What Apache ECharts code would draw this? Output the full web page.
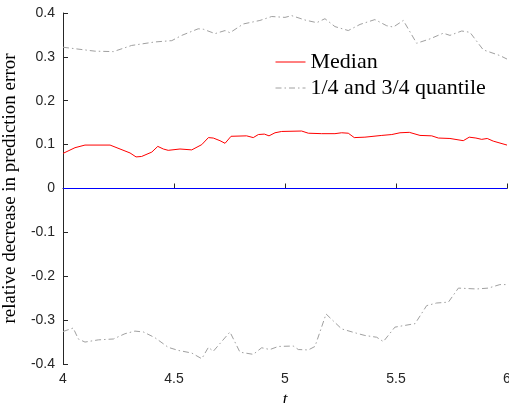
<!DOCTYPE html>
<html>
<head>
<meta charset="utf-8">
<script src="https://cdn.jsdelivr.net/npm/echarts@6/dist/echarts.min.js"></script>
<style>html,body{margin:0;padding:0;background:#fff;}#c{width:509px;height:403px;}</style>
</head>
<body>
<div id="c"></div>
<script>
// ---- data ----
const medianT = [4.000,4.054,4.099,4.212,4.302,4.329,4.354,4.400,4.427,4.452,4.474,4.527,4.580,4.625,4.655,4.677,4.707,4.730,4.757,4.827,4.857,4.880,4.907,4.928,4.955,4.985,5.075,5.105,5.165,5.225,5.255,5.285,5.312,5.360,5.436,5.481,5.518,5.560,5.608,5.661,5.691,5.743,5.803,5.830,5.860,5.886,5.911,5.938,6.000];
const medianV = [0.080,0.093,0.099,0.099,0.081,0.072,0.073,0.083,0.096,0.090,0.087,0.090,0.088,0.100,0.116,0.115,0.109,0.103,0.119,0.120,0.116,0.123,0.124,0.120,0.127,0.130,0.131,0.126,0.125,0.125,0.127,0.126,0.116,0.117,0.121,0.123,0.127,0.128,0.121,0.120,0.115,0.114,0.109,0.117,0.115,0.112,0.114,0.108,0.099];

const upperT = [4.000,4.144,4.227,4.309,4.414,4.490,4.535,4.609,4.632,4.685,4.730,4.752,4.812,4.887,4.940,5.000,5.030,5.090,5.143,5.180,5.225,5.285,5.338,5.405,5.458,5.488,5.533,5.593,5.653,5.713,5.743,5.796,5.833,5.893,5.968,6.000];
const upperV = [0.322,0.313,0.312,0.326,0.334,0.337,0.349,0.364,0.363,0.353,0.360,0.355,0.375,0.383,0.392,0.390,0.394,0.384,0.378,0.387,0.369,0.360,0.374,0.385,0.371,0.368,0.383,0.331,0.341,0.354,0.349,0.359,0.356,0.316,0.303,0.295];

const lowerT = [4.000,4.046,4.069,4.099,4.159,4.227,4.279,4.324,4.362,4.414,4.474,4.519,4.580,4.625,4.655,4.677,4.752,4.797,4.857,4.895,4.932,4.970,5.037,5.060,5.105,5.135,5.185,5.255,5.323,5.360,5.413,5.443,5.495,5.586,5.638,5.683,5.736,5.781,5.863,5.916,5.968,6.000];
const lowerV = [-0.326,-0.318,-0.343,-0.350,-0.345,-0.343,-0.331,-0.325,-0.327,-0.340,-0.362,-0.369,-0.375,-0.388,-0.362,-0.371,-0.327,-0.373,-0.378,-0.363,-0.367,-0.360,-0.359,-0.367,-0.368,-0.360,-0.286,-0.320,-0.330,-0.335,-0.339,-0.349,-0.316,-0.308,-0.267,-0.261,-0.259,-0.227,-0.229,-0.227,-0.219,-0.219];

const zeroT = [4, 6];
const zeroV = [0, 0];

const xTicks = [4, 4.5, 5, 5.5, 6];
const yTicks = [-0.4, -0.3, -0.2, -0.1, 0, 0.1, 0.2, 0.3, 0.4];
const seriesNames = ['Median', '1/4 and 3/4 quantile'];
const yLabel = 'relative decrease in prediction error';
const xLabel = 't';

const pairs = (t, v) => t.map((x, i) => [x, v[i]]);

const chart = echarts.init(document.getElementById('c'), null, {renderer: 'canvas'});
const axisColor = '#262626';
const dashDot = [6, 3, 1.5, 3];

chart.setOption({
  animation: false,
  backgroundColor: '#ffffff',
  grid: {left: 63, right: 2, top: 13, bottom: 39, containLabel: false, outerBoundsMode: 'none'},
  legend: {
    data: seriesNames,
    left: 270, top: 46, orient: 'vertical',
    itemWidth: 30, itemHeight: 14, itemGap: 4,
    itemStyle: {opacity: 0},
    lineStyle: {width: 1},
    textStyle: {fontFamily: 'Liberation Serif', fontSize: 22, color: '#000', lineHeight: 22}
  },
  xAxis: {
    type: 'value', min: xTicks[0], max: xTicks[xTicks.length - 1], interval: 0.5,
    name: xLabel, nameLocation: 'middle', nameGap: 27,
    nameTextStyle: {fontFamily: 'Liberation Serif', fontStyle: 'italic', fontSize: 17, color: '#000'},
    axisLine: {lineStyle: {color: axisColor, width: 1}},
    axisTick: {inside: true, length: 5, lineStyle: {color: axisColor}},
    axisLabel: {margin: 8, fontFamily: 'Liberation Sans', fontSize: 14, color: axisColor,
      formatter: v => String(+v.toFixed(1))},
    splitLine: {show: false}
  },
  yAxis: {
    type: 'value', min: yTicks[0], max: yTicks[yTicks.length - 1], interval: 0.1,
    name: yLabel, nameLocation: 'middle', nameGap: 36, nameRotate: 90,
    nameTextStyle: {fontFamily: 'Liberation Serif', fontSize: 19, color: '#000'},
    axisLine: {onZero: false, lineStyle: {color: axisColor, width: 1}},
    axisTick: {inside: true, length: 5, lineStyle: {color: axisColor}},
    axisLabel: {margin: 8, fontFamily: 'Liberation Sans', fontSize: 14, color: axisColor,
      formatter: v => String(+v.toFixed(1))},
    splitLine: {show: false}
  },
  series: [
    {name: seriesNames[0], type: 'line', data: pairs(medianT, medianV), symbol: 'none',
      lineStyle: {color: '#ff0000', width: 1}, itemStyle: {color: '#ff0000'}, z: 3},
    {name: seriesNames[1], type: 'line', data: pairs(upperT, upperV), symbol: 'none',
      lineStyle: {color: '#a0a0a0', width: 1, type: dashDot}, itemStyle: {color: '#a0a0a0'}},
    {name: seriesNames[1], type: 'line', data: pairs(lowerT, lowerV), symbol: 'none',
      lineStyle: {color: '#a0a0a0', width: 1, type: dashDot}, itemStyle: {color: '#a0a0a0'}},
    {name: 'zero', type: 'line', data: pairs(zeroT, zeroV), symbol: 'none',
      lineStyle: {color: '#0000ff', width: 1}, itemStyle: {color: '#0000ff'}, z: 2}
  ]
});
</script>
</body>
</html>
